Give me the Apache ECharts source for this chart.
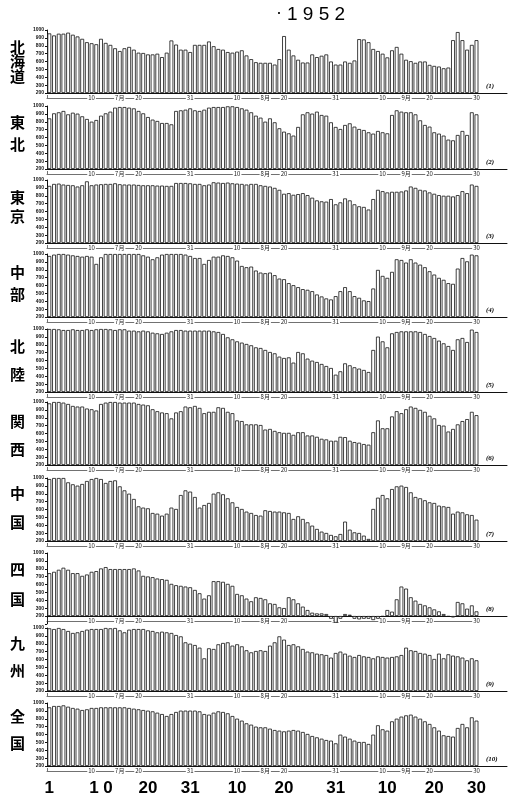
<!DOCTYPE html>
<html><head><meta charset="utf-8">
<script src="https://cdn.jsdelivr.net/npm/echarts/dist/echarts.min.js"></script>
<style>html,body{margin:0;padding:0;background:#fff}#c{width:520px;height:801px}</style>
</head><body><div id="c"></div>
<script>
// ---- data (1952, daily values, July 1 - Sept 30) ----
const categories = ['7/1','7/2','7/3','7/4','7/5','7/6','7/7','7/8','7/9','7/10','7/11','7/12','7/13','7/14','7/15','7/16','7/17','7/18','7/19','7/20','7/21','7/22','7/23','7/24','7/25','7/26','7/27','7/28','7/29','7/30','7/31',
'8/1','8/2','8/3','8/4','8/5','8/6','8/7','8/8','8/9','8/10','8/11','8/12','8/13','8/14','8/15','8/16','8/17','8/18','8/19','8/20','8/21','8/22','8/23','8/24','8/25','8/26','8/27','8/28','8/29','8/30','8/31',
'9/1','9/2','9/3','9/4','9/5','9/6','9/7','9/8','9/9','9/10','9/11','9/12','9/13','9/14','9/15','9/16','9/17','9/18','9/19','9/20','9/21','9/22','9/23','9/24','9/25','9/26','9/27','9/28','9/29','9/30'];

const regionNames = ['北海道','東北','東京','中部','北陸','関西','中国','四国','九州','全国'];
const panelNumbers = ['(1)','(2)','(3)','(4)','(5)','(6)','(7)','(8)','(9)','(10)'];
const yTickValues = [200,300,400,500,600,700,800,900,1000];
const bracketLabels = {9:'10',15:'7月',19:'20',30:'31',40:'10',46:'8月',50:'20',61:'31',71:'10',76:'9月',81:'20',91:'30'};
const bottomLabels = {0:'1',11:'1 0',21:'20',30:'31',40:'10',50:'20',61:'31',72:'10',82:'20',91:'30'};

const hokkaido = [957,931,953,953,966,940,918,888,845,832,819,888,836,811,768,733,768,785,750,712,708,690,690,699,656,712,867,815,750,750,720,
811,811,811,854,794,759,750,720,712,725,742,677,630,591,583,583,583,561,630,923,750,677,622,587,587,690,656,673,690,600,561,
561,600,583,613,884,880,845,759,733,699,652,742,785,699,622,604,583,600,600,557,544,536,514,523,871,974,871,750,811,871];
const tohoku = [843,907,920,937,894,915,903,869,835,801,822,877,907,928,979,987,987,979,970,937,907,860,827,810,784,784,767,937,945,953,970,
945,937,953,979,987,987,987,996,996,987,970,953,920,877,852,801,843,793,717,674,653,624,734,894,920,903,928,886,877,793,734,
708,759,780,738,708,695,666,649,683,666,653,886,945,928,920,920,894,818,759,738,666,649,624,573,564,632,683,632,920,894];
const tokyo = [925,950,954,942,937,933,917,933,983,933,942,946,950,950,958,946,942,942,942,937,933,933,933,929,929,925,925,962,962,962,958,
950,950,933,942,971,967,962,967,958,954,950,942,950,950,933,925,917,900,875,825,833,812,821,833,808,775,741,729,725,758,691,
716,766,741,691,666,658,625,758,875,858,842,850,850,854,867,917,900,875,867,842,825,808,800,800,791,808,858,833,942,925];
const chubu = [975,992,1000,1000,992,983,975,966,975,966,874,958,1000,1000,1000,1000,1000,1000,1000,1000,983,966,933,958,992,1000,1000,1000,1000,992,975,
949,949,874,924,966,966,983,975,958,916,848,832,840,790,764,756,764,731,688,680,630,604,579,554,545,528,486,461,436,423,465,
528,579,528,465,444,411,402,562,798,722,697,773,933,924,891,933,891,865,832,781,739,697,672,630,621,815,949,907,992,983];
const hokuriku = [1000,1000,996,987,987,996,987,987,996,987,996,1000,1000,996,987,996,996,979,979,970,979,970,953,945,937,953,970,987,987,979,979,
979,979,979,979,970,962,937,894,869,843,827,810,793,767,759,734,708,691,649,632,640,573,708,691,624,598,581,556,530,505,420,
463,564,539,514,497,480,454,734,903,843,767,945,962,970,970,970,970,962,937,911,886,852,818,784,734,869,886,835,992,962];
const kansai = [983,1000,1000,992,975,950,942,942,917,908,892,975,992,1000,1000,992,992,992,992,975,967,958,908,883,867,858,792,867,883,942,933,
950,925,858,875,875,933,925,875,858,766,758,716,716,716,708,650,658,633,616,608,608,583,616,616,575,575,558,533,525,508,508,
558,554,508,491,483,466,458,616,766,666,666,817,883,858,908,942,925,900,875,825,792,708,700,625,658,716,758,783,875,833];
const chugoku = [987,1000,1000,1000,945,920,903,924,962,987,1000,987,937,962,970,894,843,801,734,640,624,615,556,547,522,547,624,607,784,843,827,
759,624,657,683,801,818,793,742,691,632,607,573,556,530,522,590,581,573,573,564,556,480,514,480,437,395,353,319,302,277,260,
289,446,344,310,302,268,226,607,750,784,742,860,894,903,886,818,759,742,717,691,683,649,640,632,547,573,564,539,530,471];
const shikoku = [744,761,787,813,787,744,744,710,727,761,770,804,821,796,796,796,796,796,804,778,710,702,693,676,668,659,608,591,583,574,565,
531,489,421,463,642,642,634,608,583,480,463,421,387,438,429,412,361,353,310,301,438,412,361,319,276,242,233,233,225,165,114,
165,225,216,165,157,165,165,148,165,191,276,255,412,574,548,438,395,353,335,310,284,259,225,191,182,378,361,293,335,259];
const kyushu = [996,987,1000,987,962,937,945,962,979,987,987,987,1000,996,1000,970,945,979,987,987,987,970,962,945,953,945,937,911,894,818,801,
784,750,615,742,734,793,810,818,776,793,767,717,691,708,717,708,776,818,894,852,784,793,767,734,700,691,674,666,657,624,683,
700,674,649,632,657,640,632,615,640,632,624,632,640,657,750,717,708,683,674,657,607,674,615,666,649,640,624,590,615,590];
const zenkoku = [945,962,962,970,953,937,928,911,920,937,937,945,945,945,945,945,945,937,928,920,911,903,894,877,860,835,860,886,903,903,903,
903,894,860,852,877,894,886,869,835,801,776,742,725,700,691,691,674,657,649,640,649,657,649,632,607,581,564,547,530,522,488,
598,573,547,522,505,505,480,598,717,666,649,767,801,827,843,852,827,801,767,734,691,649,590,581,573,683,734,691,818,776];

const panels = [hokkaido, tohoku, tokyo, chubu, hokuriku, kansai, chugoku, shikoku, kyushu, zenkoku];

// ---- layout ----
const BASE = 200;          // value at the x-axis line
const TOPV = 1000;
const gridTops = [30,106,180,254,329,402,478,553,628,703];
const PH = 63;             // plot height for 200..1000
const LEFT = 47, FULLW = 460;
const axisCats = categories.concat(['e1','e2','e3','e4','e5','e6']);
const barW = FULLW / axisCats.length;
const labelY = [[48,62,77],[123,145],[198,217],[273,295],[347,375],[422,450],[494,523],[570,600],[644,671],[717,744]];

const grids = [], xAxes = [], yAxes = [], series = [], graphics = [];
const black = '#111';

panels.forEach((vals, i) => {
  const minV = Math.min(0, Math.floor((Math.min(...vals) - BASE) / 100) * 100);
  const h = PH * (TOPV - BASE - minV) / (TOPV - BASE);
  grids.push({left: LEFT, top: gridTops[i], width: FULLW, height: h, containLabel: false, outerBoundsMode: 'none'});
  xAxes.push({type: 'category', gridIndex: i, data: axisCats, boundaryGap: true,
    axisLine: {onZero: true, lineStyle: {color: black, width: 1}},
    axisTick: {show: false}, axisLabel: {show: false}, splitLine: {show: false}});
  yAxes.push({type: 'value', gridIndex: i, min: minV, max: TOPV - BASE, interval: 100,
    axisLine: {show: true, lineStyle: {color: black, width: 1}},
    axisTick: {show: true, length: 2, lineStyle: {color: black}},
    splitLine: {show: false},
    axisLabel: {fontSize: 5, fontWeight: 'bold', color: black, margin: 3, fontFamily: 'Liberation Sans',
      formatter: v => (v < 0 ? '' : String(v + BASE))}});
  series.push({type: 'bar', xAxisIndex: i, yAxisIndex: i, data: vals.map(v => v - BASE),
    barCategoryGap: '18%', silent: true, animation: false,
    itemStyle: {color: '#fff', borderColor: black, borderWidth: 0.8}});

  // region name (vertical)
  regionNames[i].split('').forEach((ch, k) => {
    graphics.push({type: 'text', left: 10, top: labelY[i][k] - 8,
      style: {text: ch, fontSize: 15, fontWeight: 'bold', fill: '#000', fontFamily: 'Noto Sans CJK JP'}});
  });
  // panel number
  graphics.push({type: 'text', left: 486, top: gridTops[i] + PH - 10,
    style: {text: panelNumbers[i], fontSize: 7, fontStyle: 'italic', fontWeight: 'bold', fill: '#000', fontFamily: 'Liberation Serif'}});
});

// month bracket axes (span the 92 days only)
panels.forEach((vals, i) => {
  const gi = grids.length;
  grids.push({left: LEFT, top: gridTops[i] + PH + 4, width: barW * categories.length, height: 1, containLabel: false, outerBoundsMode: 'none'});
  xAxes.push({type: 'category', gridIndex: gi, data: categories, boundaryGap: true, position: 'bottom',
    axisLine: {show: true, lineStyle: {color: '#333', width: 0.7}},
    axisTick: {show: true, inside: true, length: 3, interval: (idx) => idx === 0 || idx === 31 || idx === 62, lineStyle: {color: '#333', width: 0.7}},
    axisLabel: {show: true, interval: 0, margin: -3, fontSize: 6, color: '#222', fontFamily: 'Noto Sans CJK JP',
      backgroundColor: '#fff', padding: [0, 1], hideOverlap: false,
      formatter: (v, idx) => bracketLabels[idx] || ''}});
  yAxes.push({type: 'value', gridIndex: gi, show: false});
});

// big day labels at the bottom
xAxes.push({type: 'category', gridIndex: grids.length - 1, data: categories, position: 'bottom', offset: 0,
  axisLine: {show: false}, axisTick: {show: false},
  axisLabel: {show: true, interval: 0, margin: 9, fontSize: 17, fontWeight: 'bold', color: '#000', fontFamily: 'Liberation Sans',
    hideOverlap: false, formatter: (v, idx) => bottomLabels[idx] || ''}});

graphics.push({type: 'text', left: 276, top: 4, style: {text: '·', fontSize: 18, fill: '#000', fontFamily: 'Liberation Sans'}});
graphics.push({type: 'text', left: 287, top: 5, style: {text: '1 9 5 2', fontSize: 19, fill: '#000', fontFamily: 'Liberation Sans'}});

const chart = echarts.init(document.getElementById('c'), null, {renderer: 'canvas'});
chart.setOption({
  backgroundColor: '#fff',
  animation: false,
  grid: grids, xAxis: xAxes, yAxis: yAxes, series: series, graphic: graphics
});
</script></body></html>
